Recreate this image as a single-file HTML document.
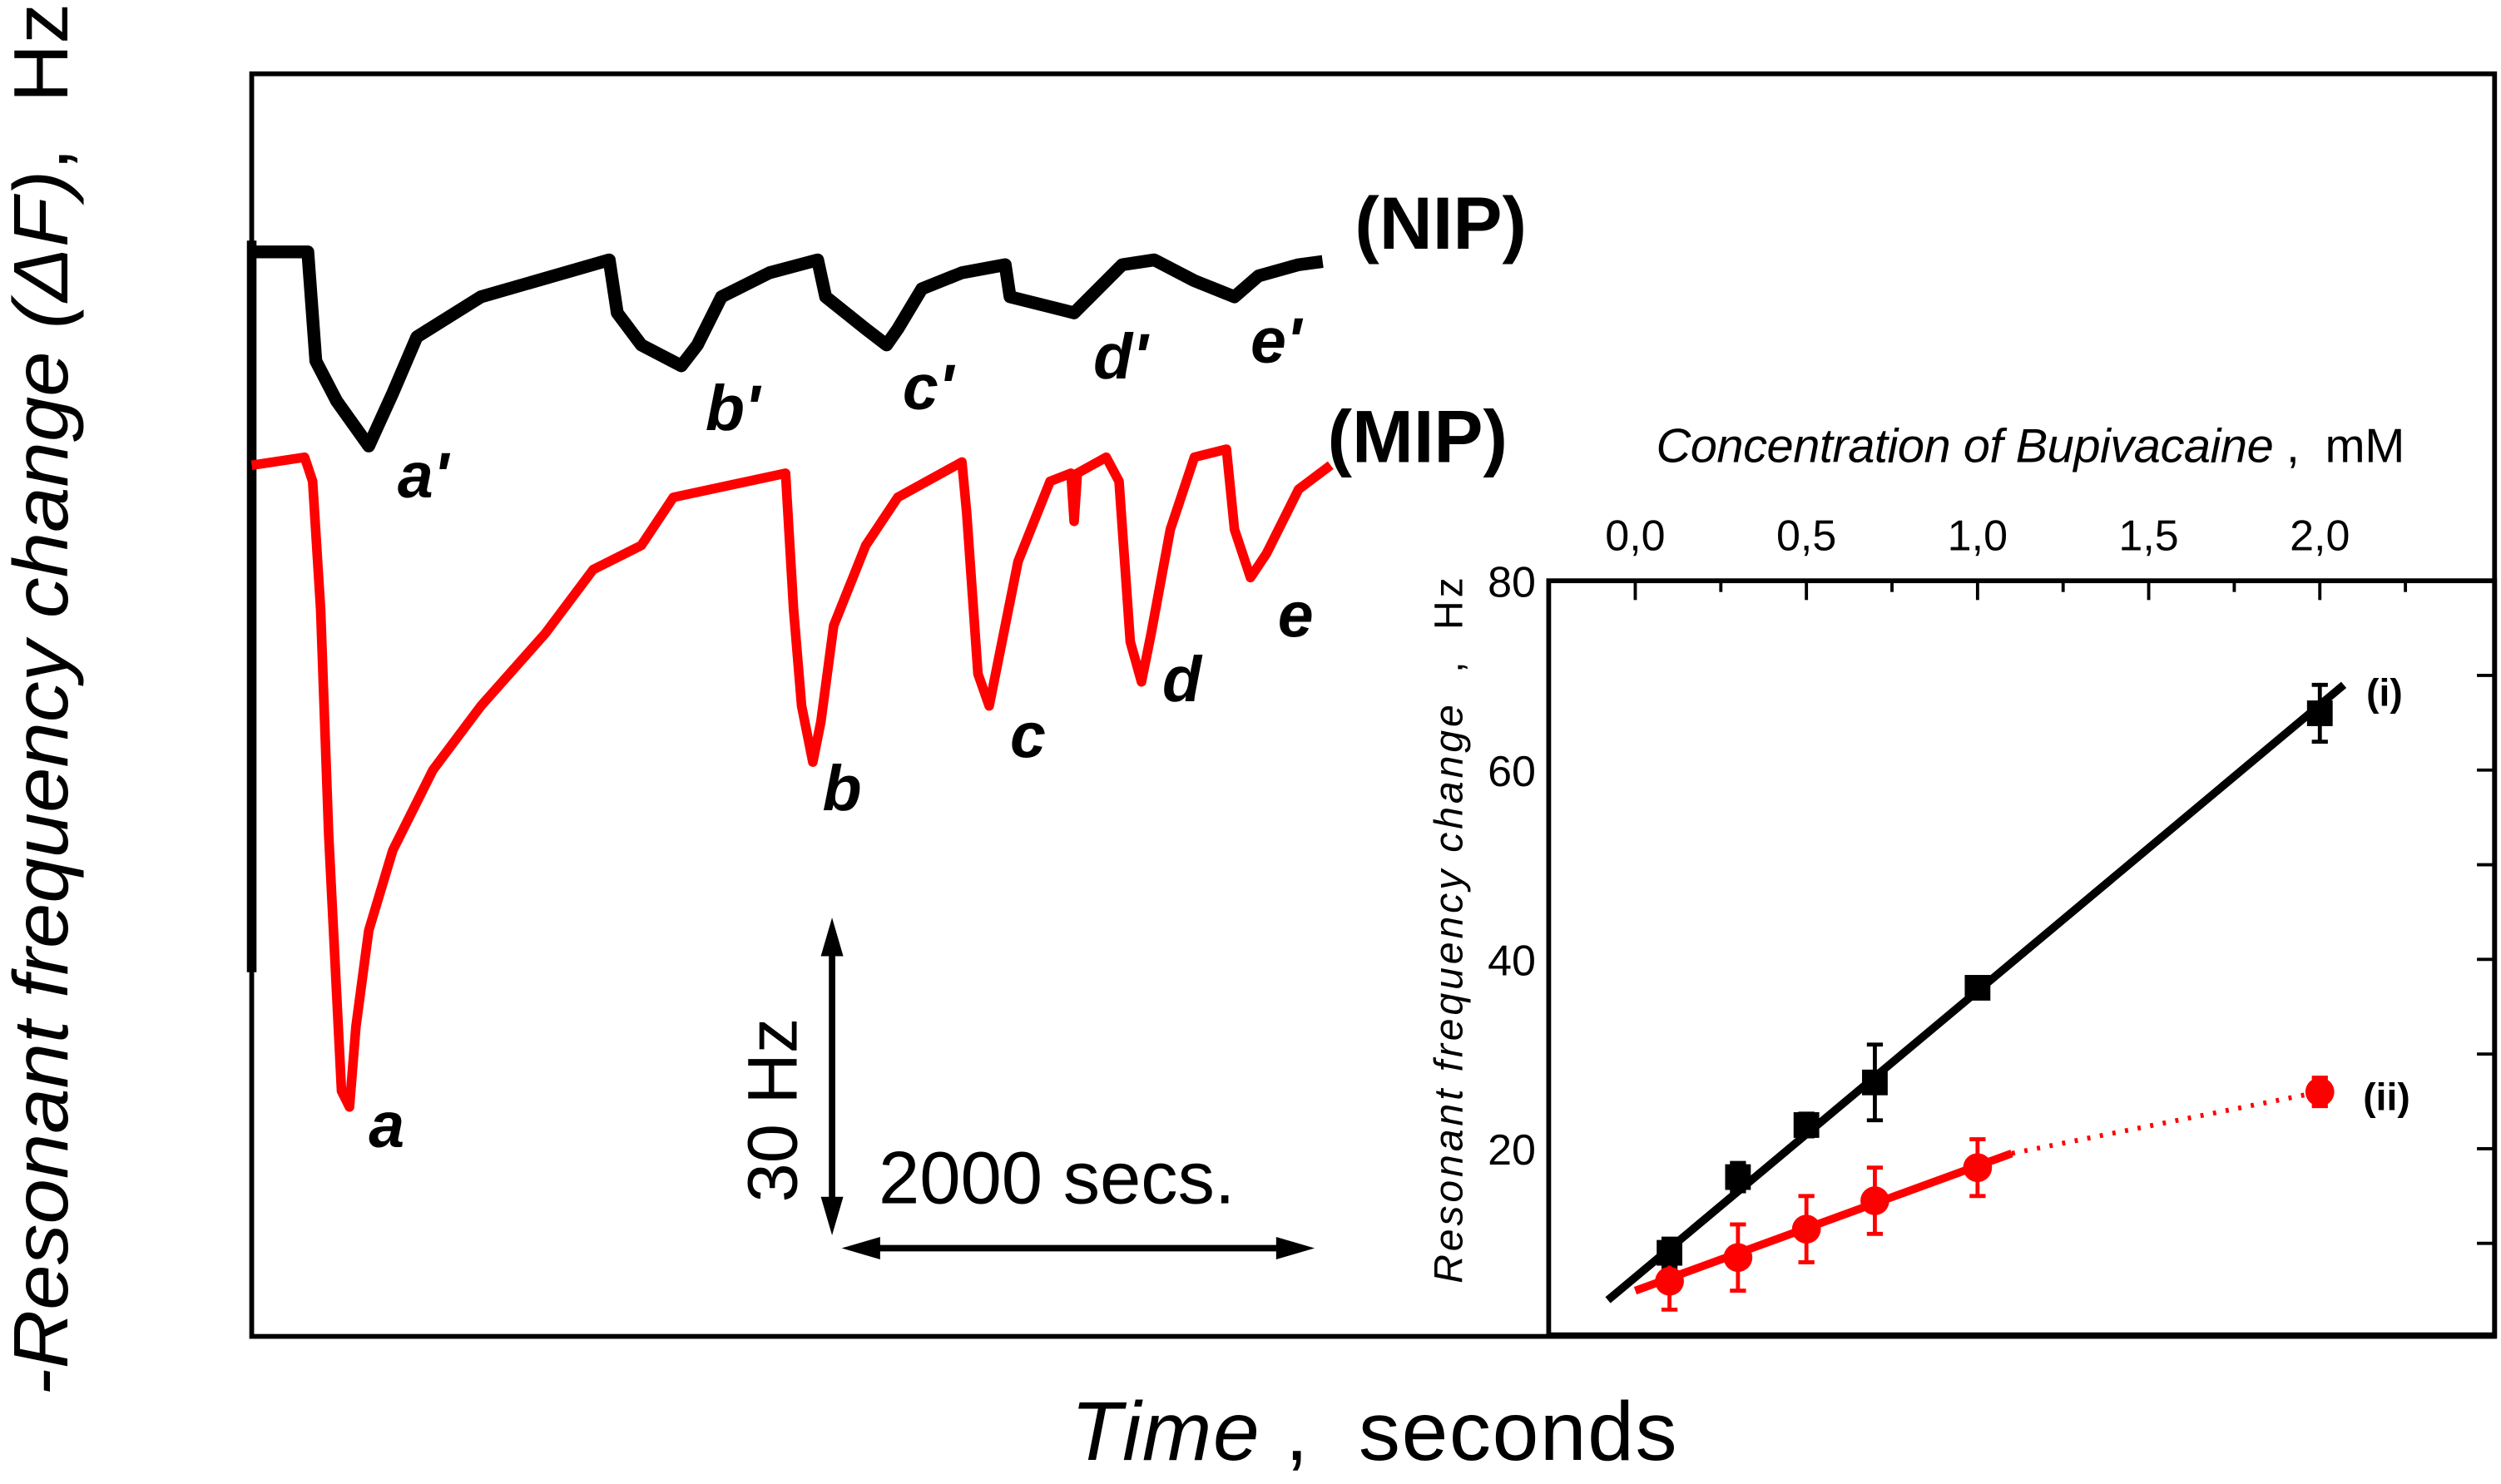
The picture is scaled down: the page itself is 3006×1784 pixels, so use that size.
<!DOCTYPE html>
<html><head><meta charset="utf-8"><style>
html,body{margin:0;padding:0;background:#fff;}
svg{display:block;}
text{font-family:"Liberation Sans",sans-serif;white-space:pre;}
</style></head><body>
<svg id="chart" width="3006" height="1784" viewBox="0 0 1560 925" preserveAspectRatio="none" xmlns="http://www.w3.org/2000/svg">
<rect x="0" y="0" width="1560" height="925" fill="#fff"/>
<rect x="157" y="46" width="1399" height="787" fill="none" stroke="#000" stroke-width="3"/>
<line x1="157" y1="150" x2="157" y2="606" stroke="#000" stroke-width="6"/>
<g id="traces"></g>
<text x="845" y="155" font-size="46" font-weight="bold">(NIP)</text>
<text x="828" y="288" font-size="46" font-weight="bold">(MIP)</text>
<g font-size="40" font-weight="bold" font-style="italic">
<text x="248" y="310">a'</text>
<text x="440" y="268">b'</text>
<text x="563" y="255">c'</text>
<text x="682" y="236">d'</text>
<text x="780" y="226">e'</text>
<text x="230" y="715">a</text>
<text x="513" y="505">b</text>
<text x="630" y="472">c</text>
<text x="725" y="437">d</text>
<text x="797" y="397">e</text>
</g>
<g>
<line x1="519" y1="590" x2="519" y2="752" stroke="#000" stroke-width="4"/>
<polygon points="519,572 512,596 526,596" fill="#000"/>
<polygon points="519,770 512,746 526,746" fill="#000"/>
</g>
<text transform="translate(497,692) rotate(-90)" text-anchor="middle" font-size="44">30 Hz</text>
<g>
<line x1="545" y1="778" x2="800" y2="778" stroke="#000" stroke-width="4"/>
<polygon points="525,778 549,771 549,785" fill="#000"/>
<polygon points="820,778 796,771 796,785" fill="#000"/>
</g>
<text x="548" y="750" font-size="46">2000 secs.</text>
<text x="668" y="910" font-size="52" textLength="378" lengthAdjust="spacing"><tspan font-style="italic">Time</tspan> ,  seconds</text>
<text transform="translate(42,870) rotate(-90)" font-size="48" textLength="868" lengthAdjust="spacingAndGlyphs"><tspan font-style="italic">-Resonant frequency change (ΔF)</tspan>,  Hz</text>
<!-- inset -->
<rect x="966" y="362" width="590" height="470" fill="none" stroke="#000" stroke-width="3"/>
<g id="inset"></g>
<text x="1033" y="288" font-size="30" textLength="467" lengthAdjust="spacing"><tspan font-style="italic">Concentration of Bupivacaine</tspan> ,  mM</text>
<text transform="translate(912,800) rotate(-90)" font-size="25" textLength="440" lengthAdjust="spacing"><tspan font-style="italic">Resonant frequency change</tspan>  ,  Hz</text>
<text x="1476" y="440" font-size="24" font-weight="bold">(i)</text>
<text x="1474" y="692" font-size="24" font-weight="bold">(ii)</text>
</svg>
<script>
const nipX=[157,192,197,210,230,245,260,300,380,385,400,425,435,450,480,510,515,540,553,560,575,600,627,630,650,670,680,700,720,745,770,785,810,825];
const nipY=[157,157,225,250,278,245,210,185,162,195,215,228,215,185,170,162,185,205,215,205,180,170,165,185,190,195,185,165,162,175,185,172,165,163];
const mipX=[157,190,195,200,205,210,213,218,222,230,245,270,300,340,370,400,420,490,495,500,507,512,520,540,560,600,603,610,617,625,635,655,668,670,672,690,698,705,712,718,730,745,765,770,780,790,810,830];
const mipY=[290,285,300,380,520,620,680,690,640,580,530,480,440,395,355,340,310,295,380,440,475,450,390,340,310,288,320,420,440,400,350,300,295,325,295,285,300,400,425,395,330,285,280,330,360,345,305,290];
const conc=[0.1,0.3,0.5,0.7,1.0,2.0];
const nipResp=[9,17,22.5,27,37,66];
const nipErr=[1.5,1.5,1.2,4,1,3];
const mipResp=[6,8.5,11.5,14.5,18,26];
const mipErr=[3,3.5,3.5,3.5,3,1.5];
const xTicks=["0,0","0,5","1,0","1,5","2,0"];
const xTickVals=[0,0.5,1,1.5,2];
const yTickVals=[20,40,60,80];
const fitI=[-0.08,4,2.07,69];
const fitIISolid=[0.0,5,1.1,19.5];
const NS="http://www.w3.org/2000/svg";
function mk(tag,attrs,parent){const e=document.createElementNS(NS,tag);for(const k in attrs)e.setAttribute(k,attrs[k]);parent.appendChild(e);return e;}
const sx=v=>1020+v*213.5;
const sy=v=>362+(80-v)*5.9;
const tr=document.getElementById('traces');
let p=mk('polyline',{points:nipX.map((x,i)=>x+','+nipY[i]).join(' '),fill:'none',stroke:'#000','stroke-width':8,'stroke-linejoin':'round'},tr);


p=mk('polyline',{points:mipX.map((x,i)=>x+','+mipY[i]).join(' '),fill:'none',stroke:'#f00','stroke-width':6,'stroke-linejoin':'round'},tr);


const g=document.getElementById('inset');
for(let v=0;v<=2.25;v+=0.25){const big=Math.abs(v*2-Math.round(v*2))<1e-6;const t=mk('line',{x1:sx(v),x2:sx(v),y1:362,y2:362+(big?12:7),stroke:'#000','stroke-width':2},g);

}
xTickVals.forEach((v,i)=>{const t=mk('text',{x:sx(v),y:343,'text-anchor':'middle','font-size':27},g);t.textContent=xTicks[i];

});
for(let v=10;v<80;v+=10){mk('line',{x1:1556,x2:1545,y1:sy(v),y2:sy(v),stroke:'#000','stroke-width':2},g);}
yTickVals.forEach(v=>{const t=mk('text',{x:958,y:sy(v)+10,'text-anchor':'end','font-size':27},g);t.textContent=v;

});
let l=mk('line',{x1:sx(fitI[0]),y1:sy(fitI[1]),x2:sx(fitI[2]),y2:sy(fitI[3]),stroke:'#000','stroke-width':5},g);


l=mk('line',{x1:sx(fitIISolid[0]),y1:sy(fitIISolid[1]),x2:sx(fitIISolid[2]),y2:sy(fitIISolid[3]),stroke:'#f00','stroke-width':5},g);


l=mk('line',{x1:sx(fitIISolid[2]),y1:sy(fitIISolid[3]),x2:sx(conc[5]),y2:sy(mipResp[5]),stroke:'#f00','stroke-width':3,'stroke-dasharray':'2 6'},g);


conc.forEach((c,i)=>{
 const x=sx(c);
 [[nipResp,nipErr,'#000'],[mipResp,mipErr,'#f00']].forEach(([r,e,col])=>{
  const y1=sy(r[i]+e[i]),y2=sy(r[i]-e[i]);
  mk('line',{x1:x,x2:x,y1:y1,y2:y2,stroke:col,'stroke-width':2.5},g);
  mk('line',{x1:x-5,x2:x+5,y1:y1,y2:y1,stroke:col,'stroke-width':2.5},g);
  mk('line',{x1:x-5,x2:x+5,y1:y2,y2:y2,stroke:col,'stroke-width':2.5},g);
 });
 const s=mk('rect',{x:x-8,y:sy(nipResp[i])-8,width:16,height:16,fill:'#000'},g);
 
 
 const cc=mk('circle',{cx:x,cy:sy(mipResp[i]),r:9,fill:'#f00'},g);
 
 
});
</script>
</body></html>
